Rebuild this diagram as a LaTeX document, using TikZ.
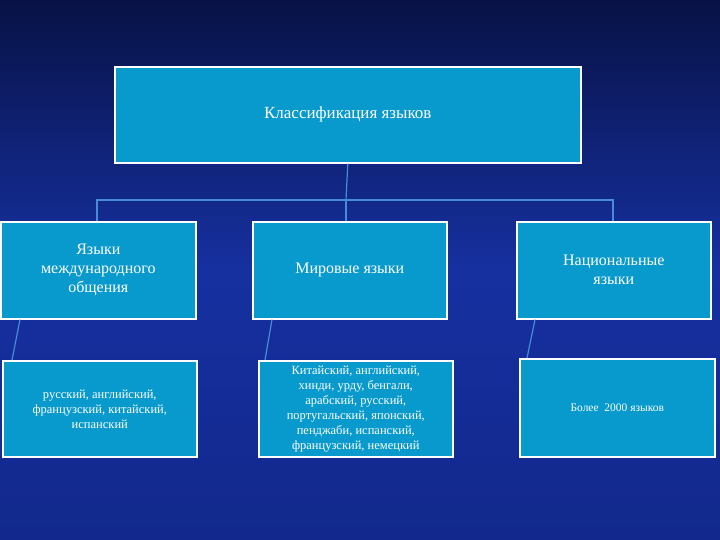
\documentclass[tikz,border=0pt]{standalone}
\usepackage{fontspec}
\setmainfont{Liberation Serif}
\definecolor{boxfill}{RGB}{8,154,205}
\definecolor{lineblue}{RGB}{70,140,215}
\definecolor{bgtop}{RGB}{8,18,70}
\definecolor{bgmid}{RGB}{22,48,160}
\definecolor{bgbot}{RGB}{18,40,140}
\tikzset{
  box/.style={draw=white,line width=1.6pt,fill=boxfill,text=white,align=center,inner sep=2pt,anchor=north west},
  conn/.style={draw=lineblue,line width=1.2pt}
}
\begin{document}
\begin{tikzpicture}[x=1pt,y=-1pt]
\shade[top color=bgtop,bottom color=bgbot,middle color=bgmid] (0,0) rectangle (720,540);
\useasboundingbox (0,0) rectangle (720,540);
\node[box,minimum width=466pt,minimum height=96pt,font=\fontsize{17}{20}\selectfont] (top) at (114,66) {Классификация языков};
\node[box,minimum width=195pt,minimum height=97pt,font=\fontsize{16}{19}\selectfont] (a) at (0,221) {Языки\\международного\\общения};
\node[box,minimum width=194pt,minimum height=97pt,font=\fontsize{16}{19}\selectfont] (b) at (252,221) {Мировые языки};
\node[box,minimum width=194pt,minimum height=97pt,font=\fontsize{16}{19}\selectfont] (c) at (516,221) {Национальные\\языки};
\node[box,minimum width=194pt,minimum height=96pt,font=\fontsize{12.5}{15}\selectfont] (d) at (2,360) {русский, английский,\\французский, китайский,\\испанский};
\node[box,minimum width=194pt,minimum height=96pt,font=\fontsize{12.5}{15}\selectfont] (e) at (258,360) {Китайский, английский,\\хинди, урду, бенгали,\\арабский, русский,\\португальский, японский,\\пенджаби, испанский,\\французский, немецкий};
\node[box,minimum width=195pt,minimum height=98pt,font=\fontsize{11.5}{14}\selectfont] (f) at (519,358) {Более \ 2000 языков};
\coordinate (bus) at (346,200);
\coordinate (bl) at (97,200);
\coordinate (br) at (613,200);
\draw[conn] (top.south) -- (bus);
\draw[conn] (bl |- a.north) -- (bl) -- (br) -- (br |- c.north);
\draw[conn] (bus) -- (346,221);
\draw[conn] ([xshift=20pt]a.south west) -- ([xshift=10pt]d.north west);
\draw[conn] ([xshift=20pt]b.south west) -- ([xshift=7pt]e.north west);
\draw[conn] ([xshift=19pt]c.south west) -- ([xshift=8pt]f.north west);
\end{tikzpicture}
\end{document}
